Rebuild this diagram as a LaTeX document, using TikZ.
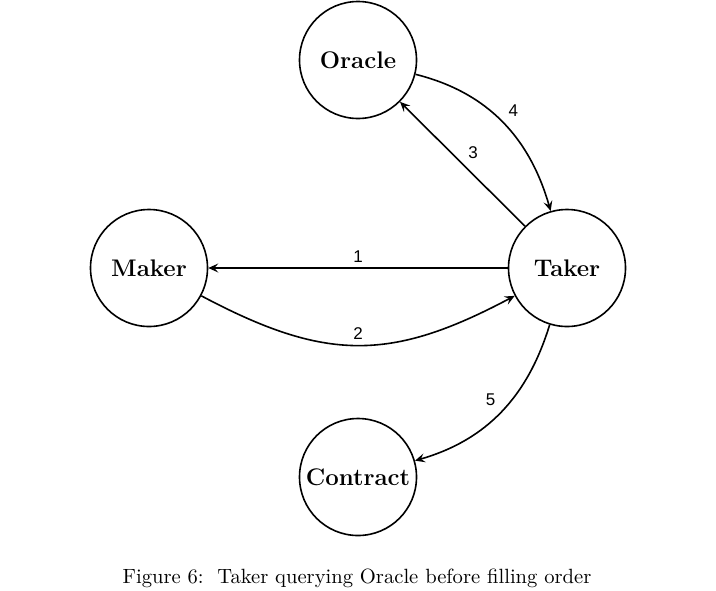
\documentclass[tikz,border=0pt]{standalone}
\usetikzlibrary{arrows.meta}
\usepackage{fontspec}
\newfontfamily\lblfont{Liberation Sans}
\begin{document}
\begin{tikzpicture}[x=0.5pt,y=-0.5pt,
  party/.style={draw,circle,minimum size=58.5pt,inner sep=0pt,line width=0.8pt,font=\fontsize{12}{14}\selectfont\bfseries},
  flow/.style={-{Stealth[length=5pt,width=4.5pt,inset=2pt]},line width=0.8pt},
  lbl/.style={font=\lblfont\fontsize{8.5}{10}\selectfont,inner sep=2.5pt}]
\useasboundingbox (0,0) rectangle (716,590);
\node[party] (oracle) at (358,60) {Oracle};
\node[party] (maker) at (149,268) {Maker};
\node[party] (taker) at (567,268) {Taker};
\node[party] (contract) at (358,477) {Contract};
\draw[flow] (taker) -- node[lbl,above] {1} (maker);
\draw[flow] (maker.-28) to[out=-28,in=208,looseness=1.15] node[lbl,above,pos=0.5] {2} (taker.208);
\draw[flow] (taker) -- node[lbl,above right] {3} (oracle);
\draw[flow] (oracle.-14) to[out=-14,in=106] node[lbl,above right] {4} (taker.106);
\draw[flow] (taker.253) to[out=253,in=16] node[lbl,above left] {5} (contract.16);
\node[font=\fontsize{10.3}{12}\selectfont] (cap) at (357,578) {Figure 6:\ \ Taker querying Oracle before filling order};
\end{tikzpicture}
\end{document}
